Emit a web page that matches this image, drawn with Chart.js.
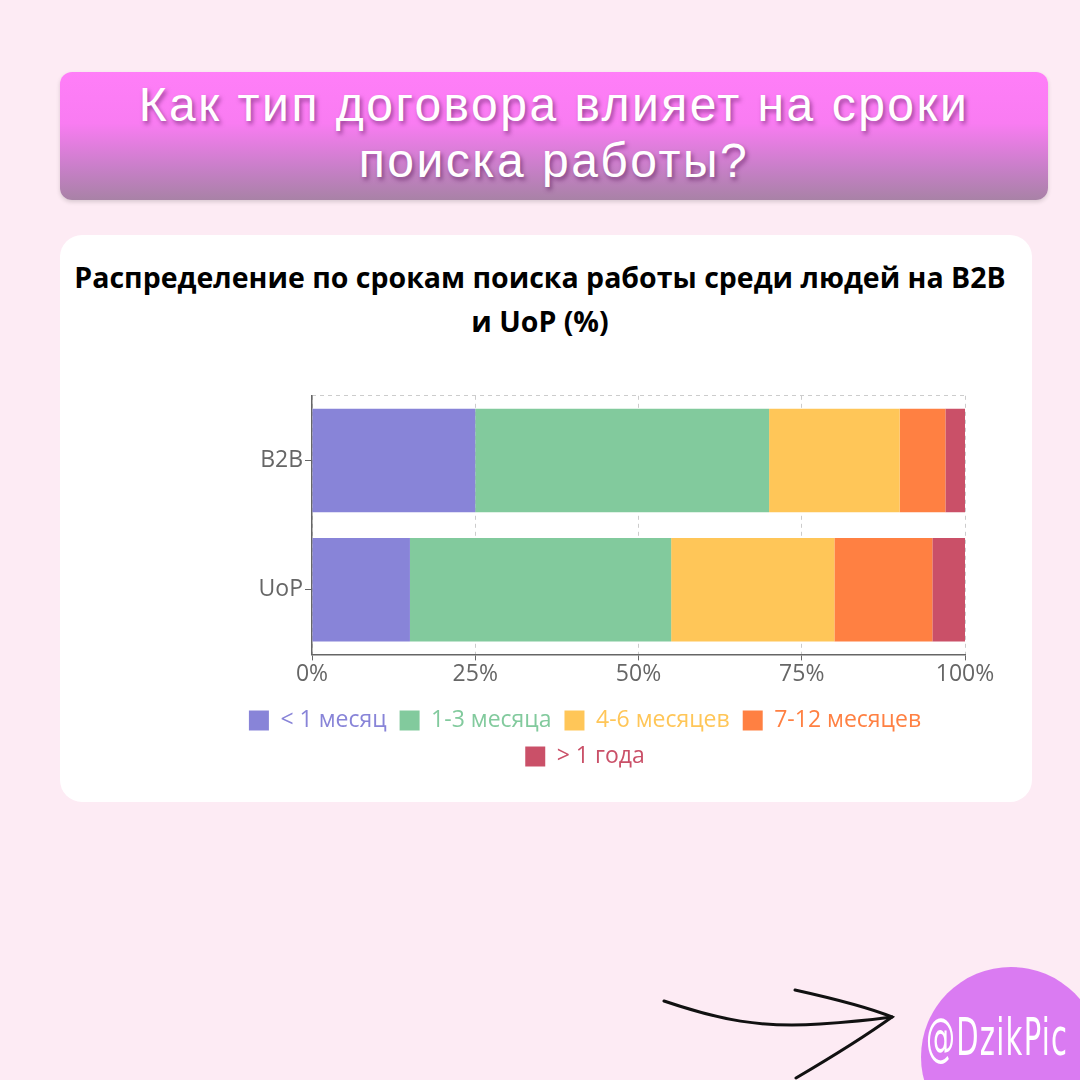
<!DOCTYPE html>
<html lang="ru">
<head>
  <meta charset="UTF-8" />
  <title>Сроки поиска работы B2B / UoP</title>
  <script src="https://cdn.jsdelivr.net/npm/chart.js"></script>
  <style>
    body {
      margin: 0;
      width: 1080px;
      height: 1080px;
      background: #fdebf4;
      position: relative;
      overflow: hidden;
      font-family: "Liberation Sans", Arial, sans-serif;
    }
    .banner {
      position: absolute;
      left: 60px; top: 72px;
      width: 988px; height: 128px;
      border-radius: 12px;
      background: linear-gradient(to bottom, #ff7ef8 0%, #f97cf2 40%, #c87fc8 75%, #a882a6 100%);
      box-shadow: 0 2px 4px rgba(0,0,0,0.15);
      color: white;
      text-align: center;
      font-size: 48px;
      letter-spacing: 2.5px;
      line-height: 56px;
      padding-top: 5px;
      box-sizing: border-box;
      text-shadow: 2px 3px 4px rgba(80,20,80,0.55);
    }
    .card {
      position: absolute;
      left: 60px; top: 235px;
      width: 972px; height: 567px;
      background: white;
      border-radius: 22px;
    }
    .chart-title {
      position: absolute;
      left: 40px; top: 255px;
      width: 1000px;
      text-align: center;
      font-family: "Open Sans", "Noto Sans", sans-serif;
      font-weight: bold;
      font-size: 28.5px;
      line-height: 44px;
      color: #000;
    }
    .chart-box {
      position: absolute;
      left: 60px; top: 380px;
      width: 960px; height: 422px;
    }
    .badge {
      position: absolute;
      left: 921px; top: 967px;
      width: 180px; height: 180px;
      border-radius: 50%;
      background: #da7bf2;
    }
    .badge span {
      position: absolute;
      left: 5px; top: 40px;
      color: white;
      font-family: "DejaVu Sans Condensed", sans-serif;
      font-size: 52px;
      transform: scaleX(0.62);
      transform-origin: left top;
      letter-spacing: 2px;
    }
    svg.arrow { position: absolute; left: 0; top: 0; }
  </style>
</head>
<body>
  <div class="banner">Как тип договора влияет на сроки<br>поиска работы?</div>
  <div class="card"></div>
  <div class="chart-title">Распределение по срокам поиска работы среди людей на B2B<br>и UoP (%)</div>
  <div class="chart-box"><canvas id="chart"></canvas></div>
  <svg class="arrow" width="1080" height="1080">
    <path d="M664 1001 C720 1020 760 1028 820 1024 C850 1022 870 1020 892 1017" fill="none" stroke="#111" stroke-width="3" stroke-linecap="round"/>
    <path d="M795 990 C840 1000 870 1008 892 1017 C860 1040 830 1058 796 1078" fill="none" stroke="#111" stroke-width="3" stroke-linecap="round"/>
  </svg>
  <div class="badge"><span>@DzikPic</span></div>

  <script>
    // данные
    const categories = ['B2B', 'UoP'];
    const seriesNames = ['< 1 месяц', '1-3 месяца', '4-6 месяцев', '7-12 месяцев', '> 1 года'];
    const lessThan1 = [25, 15];
    const from1to3 = [45, 40];
    const from4to6 = [20, 25];
    const from7to12 = [7, 15];
    const moreThanYear = [3, 5];
    const xTicks = [0, 25, 50, 75, 100];

    const colors = ['#8884d8', '#82ca9d', '#ffc658', '#ff8042', '#ca5068'];
    const values = [lessThan1, from1to3, from4to6, from7to12, moreThanYear];

    const font = '"Open Sans", "Noto Sans", sans-serif';

    new Chart(document.getElementById('chart'), {
      type: 'bar',
      data: {
        labels: categories,
        datasets: seriesNames.map((name, i) => ({
          label: name,
          data: values[i],
          xAxisID: 'x',
          yAxisID: 'y',
          backgroundColor: colors[i],
          borderWidth: 0,
          barPercentage: 0.8,
          categoryPercentage: 1.0
        }))
      },
      options: {
        indexAxis: 'y',
        responsive: true,
        maintainAspectRatio: false,
        animation: false,
        layout: { padding: { top: 11, right: 55, bottom: 24, left: 145 } },
        scales: {
          x: {
            stacked: true,
            min: 0,
            max: 100,
            afterBuildTicks: s => { s.ticks = xTicks.map(v => ({ value: v })); },
            afterFit: s => { s.height += 8; },
            ticks: {
              callback: v => v + '%',
              color: '#666',
              font: { family: font, size: 23 },
              padding: 0,
              maxRotation: 0
            },
            grid: {
              color: '#ccc',
              tickBorderDash: [],
              tickColor: '#666',
              tickLength: 6
            },
            border: { color: '#666', width: 1.5, dash: [4, 4] }
          },
          y: {
            stacked: true,
            afterFit: s => { s.width = 107; },
            ticks: {
              color: '#666',
              font: { family: font, size: 23 },
              padding: 2
            },
            grid: {
              offset: false,
              color: 'transparent',
              tickColor: '#666',
              tickLength: 7
            },
            border: { color: '#666', width: 1.5 }
          },
          // только верхняя пунктирная линия сетки
          yTop: {
            type: 'category',
            position: 'right',
            labels: categories,
            afterFit: s => { s.width = 0; },
            ticks: { display: false },
            grid: {
              offset: true,
              drawTicks: false,
              color: c => c.index === 0 ? '#ccc' : 'transparent'
            },
            border: { display: false, dash: [4, 4] }
          }
        },
        plugins: {
          title: { display: false },
          legend: {
            position: 'bottom',
            labels: {
              boxWidth: 20,
              boxHeight: 20,
              padding: 13,
              font: { family: font, size: 23 },
              generateLabels: chart =>
                Chart.defaults.plugins.legend.labels.generateLabels(chart)
                  .map(l => ({ ...l, fontColor: l.fillStyle, lineWidth: 0 }))
            }
          },
          tooltip: { enabled: false }
        }
      }
    });
  </script>
</body>
</html>
